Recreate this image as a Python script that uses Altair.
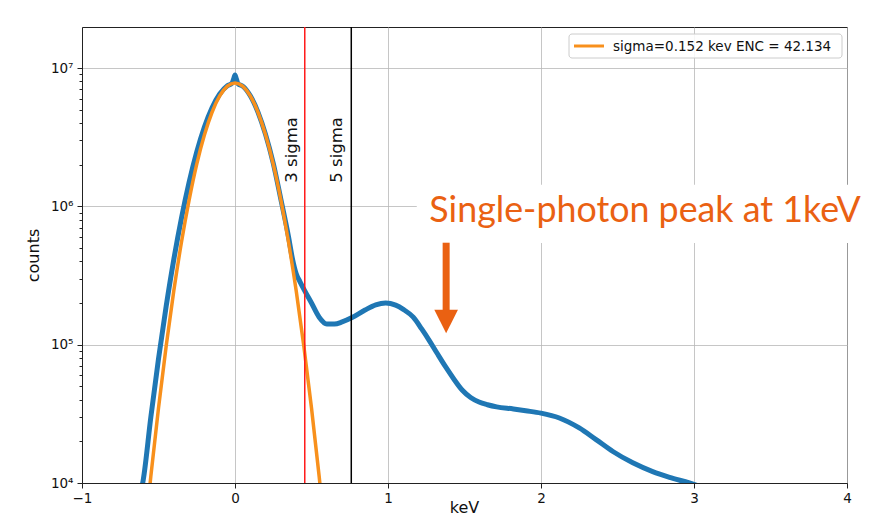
import altair as alt
import pandas as pd

# ---- data ----
blue_x = [-0.63, -0.6, -0.55, -0.5, -0.45, -0.4, -0.35, -0.3, -0.25, -0.2, -0.15, -0.1,
          -0.05, -0.02, -0.008, 0.0, 0.008, 0.02, 0.05, 0.1, 0.15, 0.2, 0.25, 0.3, 0.35,
          0.375, 0.4, 0.425, 0.456, 0.5, 0.55, 0.6, 0.65, 0.7, 0.765, 0.85, 0.92, 0.985,
          1.05, 1.1, 1.165, 1.22, 1.268, 1.32, 1.377, 1.43, 1.486, 1.54, 1.595, 1.65,
          1.71, 1.82, 1.9, 2.0, 2.12, 2.25, 2.36, 2.47, 2.6, 2.73, 2.84, 2.97, 3.02]
blue_y = [7.5e3, 1.05e4, 3.0e4, 7.9e4, 1.89e5, 4.13e5, 8.2e5, 1.49e6, 2.47e6, 3.74e6,
          5.16e6, 6.49e6, 7.45e6, 7.75e6, 8.4e6, 8.9e6, 8.4e6, 7.7e6, 7.4e6, 6.3e6,
          4.8e6, 3.3e6, 2.05e6, 1.12e6, 6.0e5, 4.2e5, 3.25e5, 2.85e5, 2.45e5, 2.0e5,
          1.58e5, 1.41e5, 1.41e5, 1.46e5, 1.57e5, 1.78e5, 1.94e5, 2.0e5, 1.93e5, 1.80e5,
          1.58e5, 1.3e5, 1.08e5, 8.7e4, 6.9e4, 5.65e4, 4.68e4, 4.15e4, 3.85e4, 3.68e4,
          3.55e4, 3.43e4, 3.33e4, 3.2e4, 2.95e4, 2.5e4, 2.06e4, 1.69e4, 1.4e4, 1.21e4,
          1.1e4, 1.0e4, 9.6e3]

orange_x = [-0.6, -0.55, -0.5, -0.45, -0.4, -0.35, -0.3, -0.25, -0.2, -0.15, -0.1, -0.05,
            0.0, 0.05, 0.1, 0.15, 0.2, 0.25, 0.3, 0.35, 0.4, 0.45, 0.5, 0.55, 0.6]
orange_y = [3.2e3, 1.12e4, 3.48e4, 9.75e4, 2.45e5, 5.5e5, 1.11e6, 2.02e6, 3.28e6, 4.79e6,
            6.28e6, 7.39e6, 7.8e6, 7.39e6, 6.28e6, 4.79e6, 3.28e6, 2.02e6, 1.11e6, 5.5e5,
            2.45e5, 9.75e4, 3.48e4, 1.12e4, 3.2e3]
legend_label = "sigma=0.152 kev ENC = 42.134"
x_title = "keV"

thr_x = [0.456, 0.76]
thr_colors = ["#ff1a1a", "#000000"]
thr_labels = ["3 sigma", "5 sigma"]
thr_label_x = [0.372, 0.665]
thr_label_y = [2.56e6, 2.56e6]

annot_text = ["Single-photon peak at 1keV"]
annot_x = [1.27]
annot_y = [7.66e5]
arrow_x = [1.38]
arrow_top = [5.46e5]
arrow_bottom = [1.72e5]
arrow_head_y = [1.47e5]
cover_x = [1.188]
cover_x2 = [4.4]
cover_y = [5.44e5]
cover_y2 = [1.43e6]

x_ticks = [-1, 0, 1, 2, 3, 4]
y_ticks = [m * 10 ** e for e in range(4, 7) for m in range(1, 10)] + [1e7]

BLUE = "#1f77b4"
ORANGE = "#f8901c"
ANN = "#ea6112"

MAJ = "abs(log(datum.value)/LN10 - round(log(datum.value)/LN10)) < 0.001"
EXP = "round(log(datum.value)/LN10)"
ylabel_expr = (f"({MAJ}) ? ({EXP}==4 ? '10⁴' : {EXP}==5 ? '10⁵' : "
               f"{EXP}==6 ? '10⁶' : '10⁷') : ''")

x_scale = alt.Scale(domain=[-1, 4], nice=False)
y_scale = alt.Scale(type="log", domain=[1e4, 1.98e7], nice=False)

blue_df = pd.DataFrame({"x": blue_x, "y": blue_y})
orange_df = pd.DataFrame({"x": orange_x, "y": orange_y})
thr_df = pd.DataFrame({"x": thr_x, "c": thr_colors, "lab": thr_labels,
                       "lx": thr_label_x, "ly": thr_label_y})
ann_df = pd.DataFrame({"t": annot_text, "x": annot_x, "y": annot_y, "ax": arrow_x,
                       "at": arrow_top, "ab": arrow_bottom, "ah": arrow_head_y,
                       "cx": cover_x, "cx2": cover_x2, "cy": cover_y, "cy2": cover_y2})
leg_df = pd.DataFrame({"label": [legend_label], "xt": [x_title]})

x_axis = alt.Axis(values=x_ticks, title=None, labelFlush=False, tickSize=5,
                  labelPadding=3,
                  labelExpr="datum.value < 0 ? '−' + abs(datum.value) : '' + datum.value")
y_axis = alt.Axis(values=y_ticks, title="counts", labelExpr=ylabel_expr,
                  labelOverlap=False, labelFlush=False, labelPadding=4, titlePadding=9,
                  tickSize={"condition": {"test": MAJ, "value": 5}, "value": 3},
                  gridOpacity={"condition": {"test": MAJ, "value": 1}, "value": 0})

blue = alt.Chart(blue_df).mark_line(color=BLUE, strokeWidth=5, clip=True,
                                    interpolate="monotone").encode(
    x=alt.X("x:Q", scale=x_scale, axis=x_axis),
    y=alt.Y("y:Q", scale=y_scale, axis=y_axis),
)
orange = alt.Chart(orange_df).mark_line(color=ORANGE, strokeWidth=3.5, clip=True,
                                        interpolate="monotone").encode(
    x="x:Q", y="y:Q")

rules = alt.Chart(thr_df).mark_rule(strokeWidth=1.5).encode(
    x="x:Q", color=alt.Color("c:N", scale=None))
thr_text = alt.Chart(thr_df).mark_text(angle=270, align="center", baseline="middle",
                                       font="DejaVu Sans", fontSize=16.5,
                                       color="#111").encode(
    x="lx:Q", y="ly:Q", text="lab:N")

cover = alt.Chart(ann_df).mark_rect(color="white").encode(
    x="cx:Q", x2="cx2:Q", y="cy:Q", y2="cy2:Q")
ann_text = alt.Chart(ann_df).mark_text(align="left", baseline="alphabetic", font="Lato",
                                       fontSize=35.8, color=ANN).encode(
    x="x:Q", y="y:Q", text="t:N")
shaft = alt.Chart(ann_df).mark_rule(color=ANN, strokeWidth=7).encode(
    x="ax:Q", y="at:Q", y2="ab:Q")
head = alt.Chart(ann_df).mark_point(shape="M-1,-1L1,-1L0,1Z", filled=True, size=560,
                                    opacity=1, color=ANN, strokeWidth=0).encode(
    x="ax:Q", y="ah:Q")

leg_box = alt.Chart(leg_df).mark_rect(fill="white", fillOpacity=0.85, stroke="#cccccc",
                                      strokeWidth=1, cornerRadius=3).encode(
    x=alt.value(487), x2=alt.value(760), y=alt.value(7), y2=alt.value(31))
leg_line = alt.Chart(leg_df).mark_rule(color=ORANGE, strokeWidth=3).encode(
    x=alt.value(492), x2=alt.value(522), y=alt.value(19))
leg_text = alt.Chart(leg_df).mark_text(align="left", baseline="middle",
                                       font="DejaVu Sans", fontSize=13.5,
                                       color="#111").encode(
    x=alt.value(531), y=alt.value(19.5), text="label:N")
xtitle = alt.Chart(leg_df).mark_text(align="center", baseline="alphabetic",
                                     font="DejaVu Sans", fontSize=16,
                                     color="#111").encode(
    x=alt.value(382.5), y=alt.value(486), text="xt:N")

chart = alt.layer(blue, orange, rules, thr_text, cover, ann_text, shaft, head,
                  leg_box, leg_line, leg_text, xtitle).properties(
    width=765, height=456,
    autosize=alt.AutoSizeParams(type="none"),
    padding={"left": 74, "top": 19, "right": 22, "bottom": 38},
    background="white",
).configure_axis(
    labelFont="DejaVu Sans", labelFontSize=13.5, labelColor="#111",
    titleFont="DejaVu Sans", titleFontSize=16, titleFontWeight="normal",
    titleColor="#111", tickColor="#222", domainColor="#222",
    gridColor="#b8b8b8", gridWidth=0.8, tickWidth=1,
).configure_view(stroke="#222", strokeWidth=1)

chart.save("out.html", embed_options={"renderer": "svg", "actions": False})
